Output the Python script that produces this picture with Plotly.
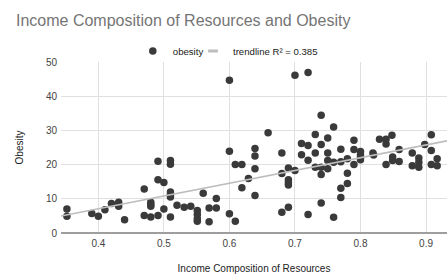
import numpy as np
import plotly.graph_objects as go

# Income Composition of Resources (x) and Obesity (y)
income = [0.352, 0.352, 0.390, 0.400, 0.410, 0.420, 0.431, 0.431, 0.440,
          0.470, 0.470, 0.480, 0.480, 0.480, 0.480, 0.491, 0.491, 0.491,
          0.500, 0.500, 0.510, 0.510, 0.510, 0.510, 0.510, 0.510,
          0.520, 0.531, 0.541, 0.551, 0.551, 0.551, 0.551, 0.560,
          0.569, 0.569, 0.580, 0.580,
          0.600, 0.600, 0.600, 0.609, 0.609, 0.619, 0.619, 0.629,
          0.639, 0.639, 0.639, 0.639, 0.659,
          0.680, 0.680, 0.680, 0.690, 0.690, 0.690, 0.690, 0.690,
          0.700, 0.700, 0.710, 0.710, 0.720, 0.720, 0.720, 0.720,
          0.731, 0.731, 0.731, 0.740, 0.740, 0.740, 0.740, 0.740,
          0.750, 0.750, 0.750, 0.750, 0.759, 0.759, 0.759,
          0.770, 0.770, 0.770, 0.770, 0.780, 0.780, 0.780,
          0.790, 0.790, 0.790, 0.800, 0.800, 0.800, 0.800,
          0.819, 0.820, 0.829, 0.839, 0.839, 0.839,
          0.848, 0.849, 0.849, 0.859, 0.859, 0.879, 0.879,
          0.889, 0.889, 0.889, 0.898, 0.908, 0.908, 0.908, 0.917, 0.917]
obesity = [7.0, 4.9, 5.7, 4.9, 6.8, 8.6, 9.0, 7.8, 3.9,
           12.9, 5.1, 9.0, 8.3, 7.8, 4.7, 21.0, 15.6, 5.1,
           14.8, 7.0, 21.2, 20.1, 12.0, 11.2, 10.5, 4.7,
           8.1, 7.5, 7.8, 6.6, 5.4, 4.2, 3.4, 11.6,
           7.3, 3.3, 10.1, 7.3,
           44.7, 23.9, 5.6, 20.0, 3.4, 20.0, 13.2, 15.9,
           24.7, 22.5, 18.8, 11.0, 29.3,
           23.4, 17.4, 6.1, 19.0, 15.6, 14.7, 14.0, 7.5,
           46.1, 18.3, 26.2, 22.9, 46.9, 25.6, 21.3, 5.4,
           28.8, 23.4, 19.2, 34.4, 25.9, 19.2, 17.1, 8.8,
           27.8, 23.4, 21.2, 18.8, 31.0, 20.7, 4.6,
           24.5, 20.8, 13.1, 10.4, 21.7, 17.5, 14.5,
           27.1, 24.4, 20.0, 23.8, 22.9, 22.2, 21.4,
           23.4, 22.8, 27.4, 27.4, 26.0, 20.0,
           28.6, 22.2, 21.2, 24.4, 20.9, 23.4, 19.7,
           21.9, 20.7, 19.2, 25.9, 28.7, 24.1, 20.0, 21.7, 19.7]

x_range = [0.343, 0.932]
y_range = [0, 50]
x_ticks = [0.4, 0.5, 0.6, 0.7, 0.8, 0.9]
x_tick_labels = ["0.4", "0.5", "0.6", "0.7", "0.8", "0.9"]
y_ticks = [0, 10, 20, 30, 40, 50]
y_tick_labels = ["0", "10", "20", "30", "40", "50"]
r2_label = "0.385"

slope, intercept = np.polyfit(income, obesity, 1)
trend_x = np.array(x_range)
trend_y = slope * trend_x + intercept

FONT = "Liberation Sans, Arial, sans-serif"
TREND_COLOR = "#bdbdbd"

fig = go.Figure()
fig.add_trace(go.Scatter(
    x=income, y=obesity, mode="markers", name="obesity", legend="legend",
    showlegend=True,
    marker=dict(color="#3a3a3a", size=7.5, line=dict(width=0)),
))
fig.add_trace(go.Scatter(
    x=trend_x, y=trend_y, mode="lines", name="trendline R² = " + r2_label,
    showlegend=False, legendgroup="trend",
    line=dict(color=TREND_COLOR, width=1.6),
))
# legend entry for the trendline (short dash, as in the original legend)
fig.add_trace(go.Scatter(
    x=[None], y=[None], mode="markers", name="trendline R² = " + r2_label,
    legend="legend2", showlegend=True, legendgroup="trend",
    marker=dict(symbol="line-ew-open", size=7, color=TREND_COLOR,
                line=dict(width=3, color="#c8c8c8")),
))

legend_font = dict(family=FONT, size=9.6, color="#222222")
fig.update_layout(
    width=447, height=274,
    showlegend=True,
    hovermode=False,
    margin=dict(l=61, r=0, t=62, b=41, autoexpand=False),
    paper_bgcolor="white", plot_bgcolor="white",
    font=dict(family=FONT, size=10, color="#444444"),
    title=dict(text="Income Composition of Resources and Obesity",
               font=dict(family=FONT, size=16, color="#757575"),
               xref="container", yref="container",
               x=16 / 447, xanchor="left", y=1 - 20 / 274, yanchor="middle"),
    legend=dict(orientation="h", x=0.186, xanchor="left", y=1.065, yanchor="middle",
                font=legend_font, bgcolor="rgba(0,0,0,0)"),
    legend2=dict(orientation="h", x=0.342, xanchor="left", y=1.065, yanchor="middle",
                 font=legend_font, bgcolor="rgba(0,0,0,0)"),
    xaxis=dict(range=x_range, tickmode="array", tickvals=x_ticks, ticktext=x_tick_labels,
               showgrid=True, gridcolor="#e0e0e0", gridwidth=1, zeroline=False,
               showline=False, ticks="", ticklabelstandoff=3,
               tickfont=dict(size=10, color="#444444"),
               title=dict(text="Income Composition of Resources",
                          font=dict(size=10, color="#222222"), standoff=19),
               automargin=False),
    yaxis=dict(range=y_range, tickmode="array", tickvals=y_ticks, ticktext=y_tick_labels,
               showgrid=True, gridcolor="#e0e0e0", gridwidth=1,
               zeroline=True, zerolinecolor="#9e9e9e", zerolinewidth=1.5,
               showline=False, ticks="", ticklabelstandoff=3,
               tickfont=dict(size=10, color="#444444"),
               title=dict(text="Obesity", font=dict(size=10, color="#222222"), standoff=20),
               automargin=False),
)

fig.write_html("out.html",
               config={"displayModeBar": False, "staticPlot": True},
               post_script="document.body.style.margin='0';document.body.style.overflow='hidden';")
